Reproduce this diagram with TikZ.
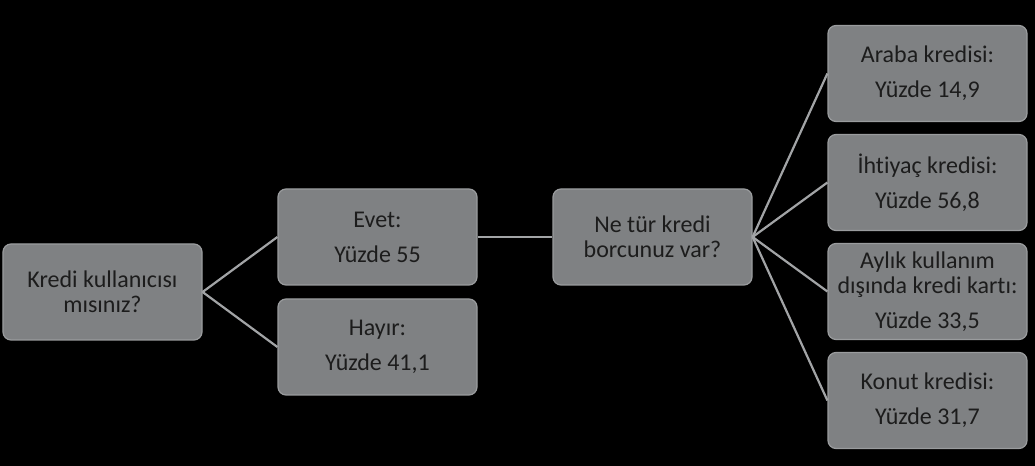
\documentclass[tikz,border=0pt]{standalone}
\usepackage{fontspec}
\setmainfont{Carlito}[Ligatures=NoCommon]
\definecolor{boxgray}{HTML}{7F8183}
\definecolor{edgegray}{HTML}{A2A4A6}
\definecolor{rimgray}{HTML}{9A9C9E}
\definecolor{inkgray}{HTML}{1C1C1C}

\begin{document}
\begin{tikzpicture}[
  grow'=right,
  level distance=137.5pt,
  level 1/.style={sibling distance=55pt},
  level 2/.style={sibling distance=55pt},
  level 3/.style={sibling distance=54.5pt},
  edge from parent/.style={draw=edgegray, line width=1.1pt},
  edge from parent path={(\tikzparentnode.east) -- (\tikzchildnode.west)},
  every node/.style={draw=rimgray, line width=0.6pt, fill=boxgray, rounded corners=4pt, text=inkgray, align=center, minimum width=99.5pt, minimum height=48pt, inner sep=1pt, font=\fontsize{12}{12.5}\selectfont}
]

% Background
\fill[black] (-51.25pt,-87pt) rectangle (466.25pt,146pt);

% Root node
\node (soru) {Kredi kullanıcısı\\mısınız?}
  child {node (evet) {Evet:\\[5pt]Yüzde 55}
    child {node (tur) {Ne tür kredi\\borcunuz var?}
      child {node (araba) {Araba kredisi:\\[5pt]Yüzde 14,9}}
      child {node (ihtiyac) {İhtiyaç kredisi:\\[5pt]Yüzde 56,8}}
      child {node (kart) {Aylık kullanım\\dışında kredi kartı:\\[5pt]Yüzde 33,5}}
      child {node (konut) {Konut kredisi:\\[5pt]Yüzde 31,7}}
    }
  }
  child {node (hayir) {Hayır:\\[5pt]Yüzde 41,1}};
\end{tikzpicture}
\end{document}
